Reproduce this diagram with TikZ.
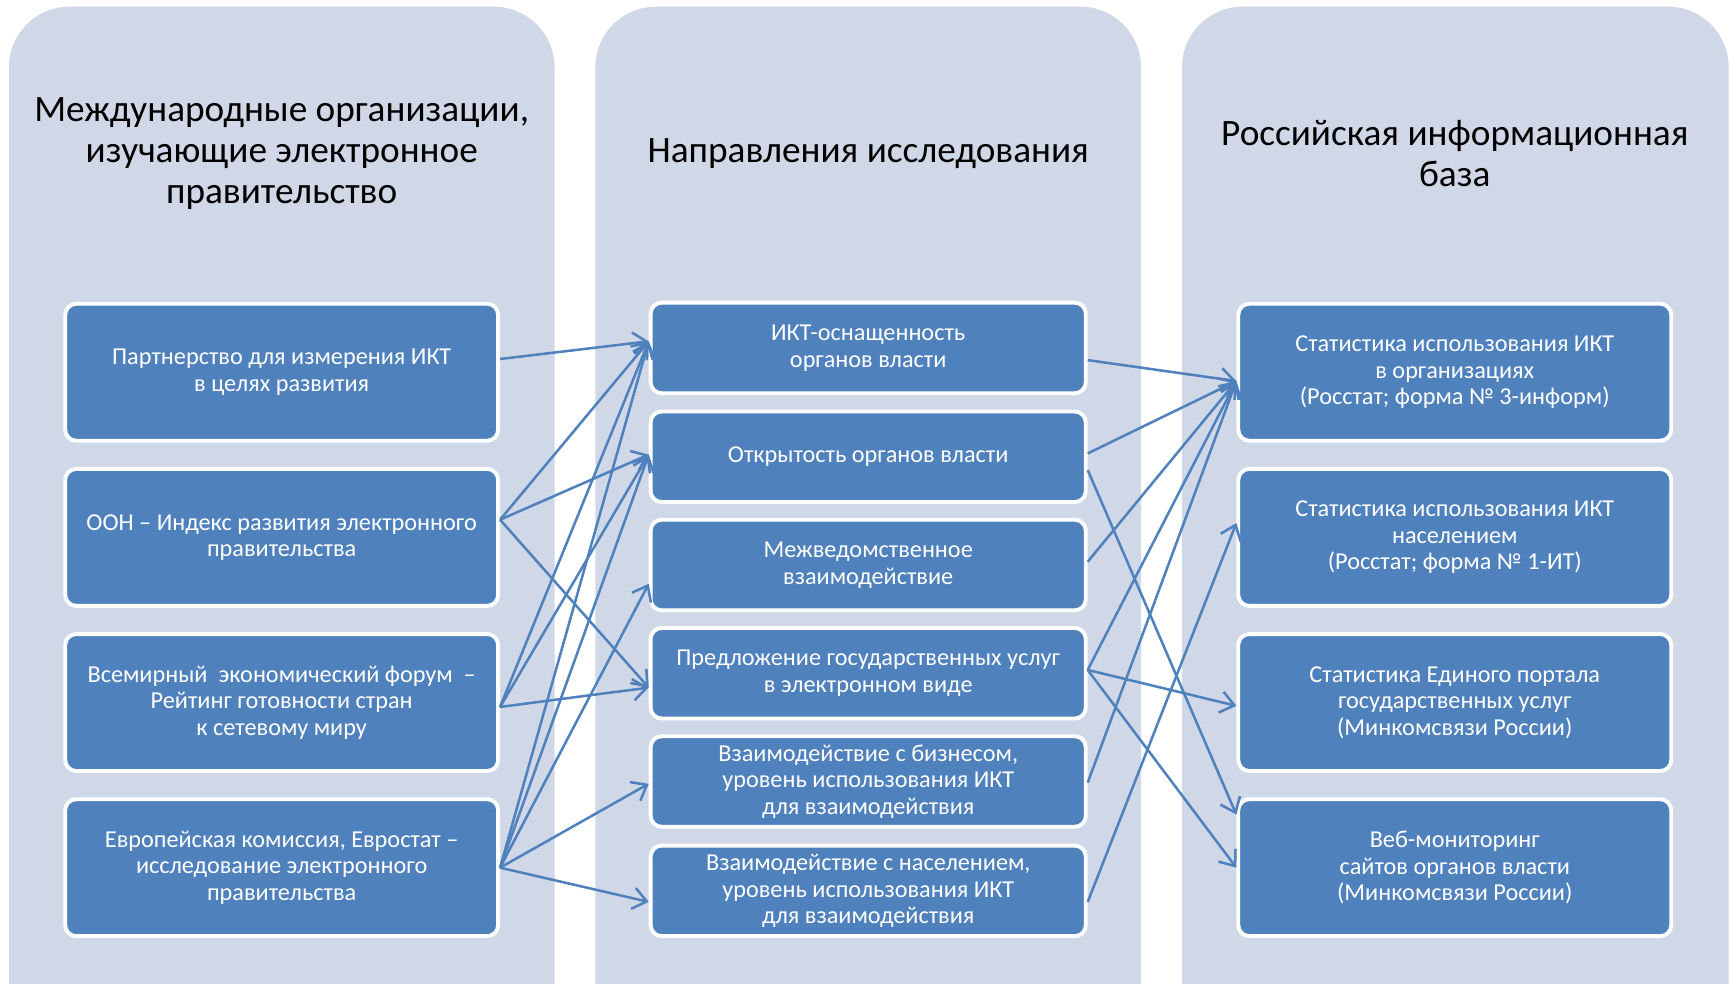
\documentclass[tikz,border=0pt]{standalone}
\usepackage{fontspec}
\setmainfont{Carlito}
\usetikzlibrary{arrows.meta,calc}
\definecolor{panelgray}{HTML}{D0D8E8}
\definecolor{boxblue}{HTML}{4F81BD}
\begin{document}
\begin{tikzpicture}[
        x=0.02cm, y=-0.02cm,
        font=\fontsize{12.5}{13.7}\selectfont
    ]
    \tikzset{
        panel/.style = {fill=panelgray, rounded corners=1.1cm},
        title/.style = {align=center, font=\fontsize{19.2}{21}\selectfont},
        srcbox/.style = {rectangle, rounded corners=0.2cm, draw=white, line width=2pt, fill=boxblue, text=white, align=center, minimum width=7.84cm, minimum height=2.48cm},
        dirbox/.style = {srcbox, minimum width=7.88cm, minimum height=1.64cm},
        link/.style = {draw=boxblue, line width=1.3pt, -{Straight Barb[length=7pt,width=11pt]}},
    }
    \path[use as bounding box, clip] (0,0) rectangle (1568,890);
    \path[panel] (8,6) rectangle (502,960);
    \path[panel] (539,6) rectangle (1033,960);
    \path[panel] (1070,6) rectangle (1565,960);

    \node[title] at (255,139) (T1) {Международные организации,\\изучающие электронное\\правительство};
    \node[title] at (786,139) (T2) {Направления исследования};
    \node[title] at (1317,139) (T3) {Российская информационная\\база};

    \node[srcbox] at (255,337) (L1) {Партнерство для измерения ИКТ\\в целях развития};
    \node[srcbox] at (255,486.5) (L2) {ООН – Индекс развития электронного\\правительства};
    \node[srcbox] at (255,636) (L3) {Всемирный~ экономический форум~ –\\Рейтинг готовности стран\\к сетевому миру};
    \node[srcbox] at (255,785.5) (L4) {Европейская комиссия, Евростат –\\исследование электронного\\правительства};

    \node[dirbox] at (786,315) (M1) {ИКТ-оснащенность\\органов власти};
    \node[dirbox] at (786,413.5) (M2) {Открытость органов власти};
    \node[dirbox] at (786,511.5) (M3) {Межведомственное\\взаимодействие};
    \node[dirbox] at (786,609.5) (M4) {Предложение государственных услуг\\в электронном виде};
    \node[dirbox] at (786,707.5) (M5) {Взаимодействие с бизнесом,\\уровень использования ИКТ\\для взаимодействия};
    \node[dirbox] at (786,806.5) (M6) {Взаимодействие с населением,\\уровень использования ИКТ\\для взаимодействия};

    \node[srcbox] at (1317,337) (R1) {Статистика использования ИКТ\\в организациях\\(Росстат; форма № 3-информ)};
    \node[srcbox] at (1317,486.5) (R2) {Статистика использования ИКТ\\населением\\(Росстат; форма № 1-ИТ)};
    \node[srcbox] at (1317,636) (R3) {Статистика Единого портала\\государственных услуг\\(Минкомсвязи России)};
    \node[srcbox] at (1317,785.5) (R4) {Веб-мониторинг\\сайтов органов власти\\(Минкомсвязи России)};

    % organisations -> directions
    \draw[link] ($(L1.east)+(0,-12)$) -- ($(M1.west)+(0,-6)$);
    \draw[link] ($(L2.east)+(0,-16)$) -- ($(M1.west)+(0,-6)$);
    \draw[link] ($(L2.east)+(0,-16)$) -- ($(M2.west)+(0,-2)$);
    \draw[link] ($(L2.east)+(0,-16)$) -- ($(M4.west)+(0,13)$);
    \draw[link] ($(L3.east)+(0,4)$) -- ($(M1.west)+(0,-6)$);
    \draw[link] ($(L3.east)+(0,4)$) -- ($(M2.west)+(0,-2)$);
    \draw[link] ($(L3.east)+(0,4)$) -- ($(M4.west)+(0,13)$);
    \draw[link] (L4.east) -- ($(M1.west)+(0,-6)$);
    \draw[link] (L4.east) -- ($(M2.west)+(0,-2)$);
    \draw[link] (L4.east) -- ($(M3.west)+(0,17)$);
    \draw[link] (L4.east) -- ($(M5.west)+(0,2)$);
    \draw[link] (L4.east) -- ($(M6.west)+(0,10)$);

    % directions -> russian sources
    \draw[link] ($(M1.east)+(0,11)$) -- ($(R1.west)+(0,8)$);
    \draw[link] ($(M2.east)+(0,-3)$) -- ($(R1.west)+(0,8)$);
    \draw[link] ($(M2.east)+(0,12)$) -- ($(R4.west)+(0,-48)$);
    \draw[link] ($(M3.east)+(0,-3)$) -- ($(R1.west)+(0,8)$);
    \draw[link] ($(M4.east)+(0,-3)$) -- ($(R1.west)+(0,8)$);
    \draw[link] ($(M4.east)+(0,-3)$) -- ($(R3.west)+(0,3)$);
    \draw[link] ($(M4.east)+(0,-3)$) -- (R4.west);
    \draw[link] ($(M5.east)+(0,1)$) -- ($(R1.west)+(0,8)$);
    \draw[link] ($(M6.east)+(0,10)$) -- ($(R2.west)+(0,-13)$);
\end{tikzpicture}
\end{document}
